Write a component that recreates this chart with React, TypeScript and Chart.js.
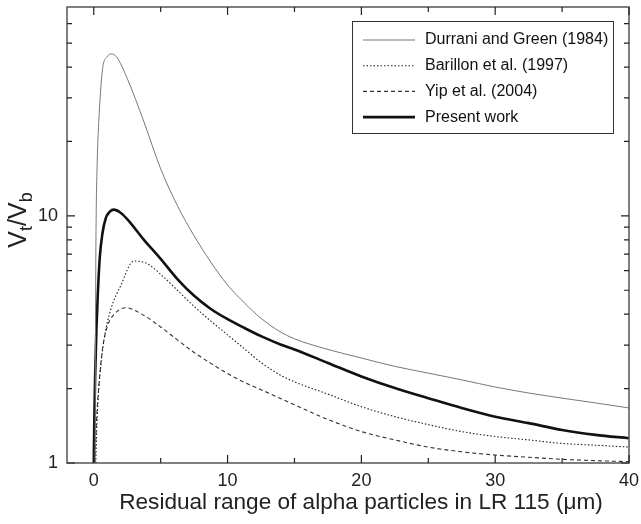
import React, { useEffect, useRef } from 'react';
import { Chart, registerables } from 'chart.js';

Chart.register(...registerables);

// ---------- data ----------
const durraniX = [0.1, 0.15, 0.18, 0.25, 0.4, 0.65, 1.0, 1.3, 1.7, 2.5, 3.75, 5, 6.25, 7.5, 8.75, 10, 11.25, 12.5, 14, 15, 17.5, 20, 22.5, 25, 27.5, 30, 32.5, 35, 37.5, 40];
const durraniY = [1, 6, 10, 16, 25.5, 39, 44, 45.2, 44, 36, 24, 15.5, 11, 8.3, 6.5, 5.25, 4.45, 3.85, 3.38, 3.18, 2.88, 2.66, 2.46, 2.31, 2.17, 2.03, 1.92, 1.83, 1.75, 1.67];

const barillonX = [0.15, 0.22, 0.32, 0.52, 0.77, 1.27, 2.0, 3.0, 4.0, 5, 6.25, 7.5, 8.75, 10, 11.25, 12.5, 14, 15, 17.5, 20, 22.5, 25, 27.5, 30, 32.5, 35, 37.5, 40];
const barillonY = [1, 1.35, 1.8, 2.46, 3.16, 4.18, 5.2, 6.57, 6.4, 5.8, 5.0, 4.3, 3.75, 3.3, 2.9, 2.55, 2.26, 2.13, 1.9, 1.69, 1.54, 1.43, 1.34, 1.28, 1.24, 1.2, 1.18, 1.16];

const yipX = [0.08, 0.15, 0.22, 0.4, 0.65, 1.02, 1.52, 2.39, 3.76, 5, 6.25, 7.5, 8.75, 10, 11.25, 12.5, 14, 15, 17.5, 20, 22.5, 25, 27.5, 30, 32.5, 35, 37.5, 40];
const yipY = [1, 1.25, 1.54, 2.11, 2.88, 3.58, 3.99, 4.25, 3.95, 3.55, 3.15, 2.8, 2.53, 2.3, 2.12, 1.98, 1.82, 1.72, 1.5, 1.34, 1.24, 1.16, 1.11, 1.077, 1.055, 1.035, 1.022, 1.012];

const presentX = [0, 0.05, 0.1, 0.2, 0.3, 0.45, 0.65, 0.9, 1.2, 1.5, 2, 2.5, 3.75, 5, 6.25, 7.5, 8.75, 10, 11.25, 12.5, 14, 15, 17.5, 20, 22.5, 25, 27.5, 30, 32.5, 35, 37.5, 40];
const presentY = [1, 1.6, 2.2, 3.5, 4.8, 6.8, 8.5, 9.8, 10.4, 10.6, 10.3, 9.7, 8.0, 6.7, 5.55, 4.75, 4.2, 3.82, 3.52, 3.26, 3.01, 2.88, 2.54, 2.24, 2.01, 1.83, 1.67, 1.54, 1.45, 1.36, 1.3, 1.26];

const seriesLabels = ['Durrani and Green (1984)', 'Barillon et al. (1997)', 'Yip et al. (2004)', 'Present work'];

const xTicks = [0, 5, 10, 15, 20, 25, 30, 35, 40];
const xMajor = [0, 10, 20, 30, 40];
const yTicks = [1, 2, 3, 4, 5, 6, 7, 8, 9, 10, 20, 30, 40, 50, 60];
const yMajor = [1, 10];

const xTitle = 'Residual range of alpha particles in LR 115 (\u03bcm)';

const FONT = '"Liberation Sans", Arial, Helvetica, sans-serif';

const zip = (xs: number[], ys: number[]) => xs.map((x, i) => ({ x, y: ys[i] }));

const framePlugin = {
  id: 'frameTicks',
  afterDraw(chart: any) {
    const { ctx, chartArea, scales } = chart;
    const { left, right, top, bottom } = chartArea;
    const xs = scales.x;
    const ys = scales.y;
    ctx.save();
    // frame
    ctx.strokeStyle = '#555';
    ctx.lineWidth = 1.5;
    ctx.strokeRect(left, top, right - left, bottom - top);
    // ticks (inward, mirrored)
    ctx.strokeStyle = '#222';
    ctx.lineWidth = 1.2;
    ctx.beginPath();
    xTicks.forEach((v) => {
      const px = xs.getPixelForValue(v);
      const len = xMajor.includes(v) ? 8 : 5;
      ctx.moveTo(px, bottom);
      ctx.lineTo(px, bottom - len);
      ctx.moveTo(px, top);
      ctx.lineTo(px, top + len);
    });
    yTicks.forEach((v) => {
      const py = ys.getPixelForValue(v);
      const len = yMajor.includes(v) ? 8 : 5;
      ctx.moveTo(left, py);
      ctx.lineTo(left + len, py);
      ctx.moveTo(right, py);
      ctx.lineTo(right - len, py);
    });
    ctx.stroke();

    // tick labels
    ctx.fillStyle = '#222';
    ctx.font = `18px ${FONT}`;
    ctx.textAlign = 'center';
    ctx.textBaseline = 'middle';
    xMajor.forEach((v) => {
      ctx.fillText(String(v), xs.getPixelForValue(v), bottom + 18);
    });
    ctx.textAlign = 'right';
    yMajor.forEach((v) => {
      ctx.fillText(String(v), left - 9, ys.getPixelForValue(v));
    });

    // x title
    ctx.font = `22.6px ${FONT}`;
    ctx.textAlign = 'center';
    ctx.fillText(xTitle, 361, 503);

    // y title V_t/V_b
    const parts: [string, boolean][] = [['V', false], ['t', true], ['/V', false], ['b', true]];
    const big = 25;
    const small = 18;
    let total = 0;
    parts.forEach(([t, sub]) => {
      ctx.font = `${sub ? small : big}px ${FONT}`;
      total += ctx.measureText(t).width;
    });
    ctx.translate(20, 220);
    ctx.rotate(-Math.PI / 2);
    ctx.textAlign = 'left';
    ctx.textBaseline = 'alphabetic';
    let cx = -total / 2;
    parts.forEach(([t, sub]) => {
      ctx.font = `${sub ? small : big}px ${FONT}`;
      ctx.fillText(t, cx, sub ? 12 : 6);
      cx += ctx.measureText(t).width;
    });
    ctx.restore();

    // legend
    ctx.save();
    const bx = 352.5, by = 21.5, bw = 261, bh = 112;
    ctx.strokeStyle = '#333';
    ctx.lineWidth = 1;
    ctx.strokeRect(bx, by, bw, bh);
    chart.data.datasets.forEach((ds: any, i: number) => {
      const ry = 40 + i * 25.7;
      ctx.beginPath();
      ctx.strokeStyle = ds.borderColor;
      ctx.lineWidth = ds.borderWidth;
      ctx.setLineDash(ds.borderDash || []);
      ctx.moveTo(363, ry);
      ctx.lineTo(415, ry);
      ctx.stroke();
      ctx.setLineDash([]);
      ctx.fillStyle = '#111';
      ctx.font = `16px ${FONT}`;
      ctx.textAlign = 'left';
      ctx.textBaseline = 'middle';
      ctx.fillText(ds.label, 425, ry);
    });
    ctx.restore();
  },
};

export default function App() {
  const ref = useRef<HTMLCanvasElement>(null);

  useEffect(() => {
    if (!ref.current) return;
    const chart = new Chart(ref.current, {
      type: 'line',
      data: {
        datasets: [
          {
            label: seriesLabels[0],
            data: zip(durraniX, durraniY),
            borderColor: '#777',
            borderWidth: 1,
            borderDash: [],
          },
          {
            label: seriesLabels[1],
            data: zip(barillonX, barillonY),
            borderColor: '#222',
            borderWidth: 1.1,
            borderDash: [1.5, 2],
          },
          {
            label: seriesLabels[2],
            data: zip(yipX, yipY),
            borderColor: '#333',
            borderWidth: 1.1,
            borderDash: [4, 3],
          },
          {
            label: seriesLabels[3],
            data: zip(presentX, presentY),
            borderColor: '#111',
            borderWidth: 2.6,
            borderDash: [],
          },
        ] as any,
      },
      options: {
        responsive: false,
        animation: false,
        parsing: false as any,
        elements: {
          point: { radius: 0, hoverRadius: 0 },
          line: { cubicInterpolationMode: 'monotone', fill: false },
        },
        layout: { padding: { top: 7, right: 12, left: 0, bottom: 0 } },
        plugins: { legend: { display: false }, tooltip: { enabled: false } },
        events: [],
        scales: {
          x: {
            type: 'linear',
            min: -2,
            max: 40,
            grid: { display: false, drawTicks: false },
            border: { display: false },
            ticks: { display: false },
            afterFit: (s: any) => { s.height = 61; s.paddingLeft = 0; s.paddingRight = 0; },
          },
          y: {
            type: 'logarithmic',
            min: 1,
            max: 70,
            grid: { display: false, drawTicks: false },
            border: { display: false },
            ticks: { display: false },
            afterFit: (s: any) => { s.width = 67; s.paddingTop = 0; s.paddingBottom = 0; },
          },
        },
      },
      plugins: [framePlugin],
    });
    return () => chart.destroy();
  }, []);

  return (
    <div style={{ position: 'absolute', left: 0, top: 0, width: 641, height: 524, background: '#fff' }}>
      <canvas ref={ref} width={641} height={524} />
    </div>
  );
}
